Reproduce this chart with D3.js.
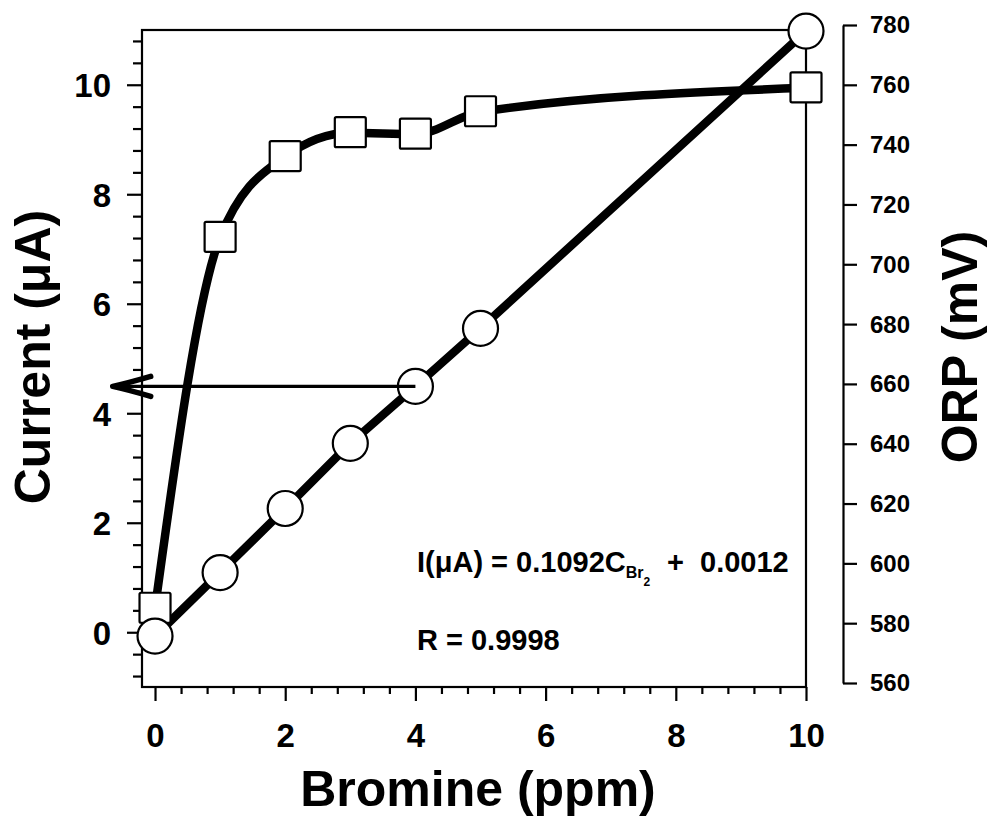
<!DOCTYPE html>
<html>
<head>
<meta charset="utf-8">
<script src="https://cdn.jsdelivr.net/npm/d3@7"></script>
<style>
  html, body { margin: 0; padding: 0; background: #fff; }
  svg { display: block; }
  text { font-family: "Liberation Sans", Arial, Helvetica, sans-serif; font-weight: bold; fill: #000; }
</style>
</head>
<body>
<svg id="chart" width="988" height="825"></svg>
<script>
// ---- data ----
const bromine = [0, 1, 2, 3, 4, 5, 10];                       // ppm
const current = [-0.07, 1.09, 2.26, 3.45, 4.49, 5.55, 10.98]; // µA (circles, left axis)
const orp = [585, 709, 736, 744, 743.5, 751, 759];            // mV (squares, right axis)
const xTicks = [0, 2, 4, 6, 8, 10];
const yLeftTicks = [0, 2, 4, 6, 8, 10];
const yRightTicks = [560, 580, 600, 620, 640, 660, 680, 700, 720, 740, 760, 780];
const arrowFrom = { x: 4, y: 4.49 };
const arrowTo = { x: -0.65, y: 4.49 };
const equationText = "I(\u03bcA) = 0.1092C";
const equationSub1 = "Br";
const equationSub2 = "2";
const equationTail1 = "+";
const equationTail2 = "0.0012";
const rText = "R = 0.9998";
const xTitle = "Bromine (ppm)";
const yLeftTitle = "Current (\u03bcA)";
const yRightTitle = "ORP (mV)";

// ---- scales ----
const svg = d3.select("#chart");
const x = d3.scaleLinear().domain([-0.2, 10]).range([142, 806]);
const yL = d3.scaleLinear().domain([-1, 11]).range([687, 30]);
const yR = d3.scaleLinear().domain([560, 780]).range([683, 25]);

// ---- frame ----
svg.append("rect")
  .attr("x", x(-0.2)).attr("y", yL(11))
  .attr("width", x(10) - x(-0.2)).attr("height", yL(-1) - yL(11))
  .attr("fill", "none").attr("stroke", "#000").attr("stroke-width", 2.2);

// ---- left axis ----
const minorL = d3.range(-2, 28).filter(i => i % 5 !== 0).map(i => i * 0.4);
const gLm = svg.append("g").attr("transform", `translate(${x(-0.2)},0)`)
  .call(d3.axisLeft(yL).tickValues(minorL).tickSize(9).tickSizeOuter(0).tickFormat(""));
const gL = svg.append("g").attr("transform", `translate(${x(-0.2)},0)`)
  .call(d3.axisLeft(yL).tickValues(yLeftTicks).tickSize(15).tickSizeOuter(0).tickPadding(16).tickFormat(d3.format("d")));
[gLm, gL].forEach(g => { g.select(".domain").remove(); g.selectAll("line").attr("stroke", "#000").attr("stroke-width", 2.2); });
gL.selectAll("text").attr("font-size", 33).attr("dy", "0.36em")
  .style("font-family", '"Liberation Sans", Arial, sans-serif').style("font-weight", "bold");

// ---- bottom axis ----
const minorB = d3.range(0, 26).filter(i => i % 5 !== 0).map(i => i * 0.4);
const gBm = svg.append("g").attr("transform", `translate(0,${yL(-1)})`)
  .call(d3.axisBottom(x).tickValues(minorB).tickSize(7).tickSizeOuter(0).tickFormat(""));
const gB = svg.append("g").attr("transform", `translate(0,${yL(-1)})`)
  .call(d3.axisBottom(x).tickValues(xTicks).tickSize(14).tickSizeOuter(0).tickFormat(d3.format("d")));
[gBm, gB].forEach(g => { g.select(".domain").remove(); g.selectAll("line").attr("stroke", "#000").attr("stroke-width", 2.2); });
gB.selectAll("text").attr("font-size", 33).attr("y", 60).attr("dy", 0)
  .style("font-family", '"Liberation Sans", Arial, sans-serif').style("font-weight", "bold");

// ---- right axis ----
const gR = svg.append("g").attr("transform", "translate(843,0)")
  .call(d3.axisRight(yR).tickValues(yRightTicks).tickSize(14).tickSizeOuter(0).tickPadding(13).tickFormat(d3.format("d")));
gR.select(".domain").attr("stroke", "#000").attr("stroke-width", 2.2);
gR.selectAll("line").attr("stroke", "#000").attr("stroke-width", 2.2);
gR.selectAll("text").attr("font-size", 24).attr("dy", "0.33em")
  .style("font-family", '"Liberation Sans", Arial, sans-serif').style("font-weight", "bold");

// ---- series lines ----
const orpData = bromine.map((b, i) => ({ x: b, y: orp[i] }));
const curData = bromine.map((b, i) => ({ x: b, y: current[i] }));

svg.append("path").datum(orpData)
  .attr("d", d3.line().x(d => x(d.x)).y(d => yR(d.y)).curve(d3.curveMonotoneX))
  .attr("fill", "none").attr("stroke", "#000").attr("stroke-width", 8.5).attr("stroke-linejoin", "round");

svg.append("path").datum(curData)
  .attr("d", d3.line().x(d => x(d.x)).y(d => yL(d.y)))
  .attr("fill", "none").attr("stroke", "#000").attr("stroke-width", 8.5).attr("stroke-linejoin", "round");

// ---- markers ----
const sq = 31;
svg.append("g").selectAll("rect").data(orpData).join("rect")
  .attr("x", d => x(d.x) - sq / 2).attr("y", d => yR(d.y) - sq / 2)
  .attr("width", sq).attr("height", sq - 1).attr("rx", 1.5)
  .attr("fill", "#fff").attr("stroke", "#000").attr("stroke-width", 2.2);

svg.append("g").selectAll("circle").data(curData).join("circle")
  .attr("cx", d => x(d.x)).attr("cy", d => yL(d.y)).attr("r", 17.5)
  .attr("fill", "#fff").attr("stroke", "#000").attr("stroke-width", 2.2);

// ---- arrow ----
const ax0 = x(arrowFrom.x), ay0 = yL(arrowFrom.y), ax1 = x(arrowTo.x), ay1 = yL(arrowTo.y);
svg.append("line").attr("x1", ax0).attr("y1", ay0).attr("x2", ax1 + 4).attr("y2", ay1)
  .attr("stroke", "#000").attr("stroke-width", 3.4);
svg.append("path")
  .attr("d", `M${ax1 + 38},${ay1 - 10} Q${ax1 + 14},${ay1 - 3} ${ax1},${ay1} Q${ax1 + 14},${ay1 + 3} ${ax1 + 38},${ay1 + 10}`)
  .attr("fill", "none").attr("stroke", "#000").attr("stroke-width", 5.5).attr("stroke-linecap", "round").attr("stroke-linejoin", "round");

// ---- annotations ----
const eq = svg.append("text").attr("x", 417).attr("y", 572).attr("font-size", 29);
eq.append("tspan").text(equationText);
eq.append("tspan").attr("font-size", 16).attr("dy", 6).text(equationSub1);
eq.append("tspan").attr("font-size", 12).attr("dy", 8).text(equationSub2);
svg.append("text").attr("x", 667).attr("y", 572).attr("font-size", 29).text(equationTail1);
svg.append("text").attr("x", 700).attr("y", 572).attr("font-size", 29).text(equationTail2);
svg.append("text").attr("x", 417).attr("y", 650).attr("font-size", 29).text(rText);

// ---- axis titles ----
svg.append("text").attr("x", 478).attr("y", 806).attr("text-anchor", "middle")
  .attr("font-size", 50).text(xTitle);
svg.append("text").attr("transform", "translate(50,357) rotate(-90)").attr("text-anchor", "middle")
  .attr("font-size", 50).text(yLeftTitle);
svg.append("text").attr("transform", "translate(977,347) rotate(-90)").attr("text-anchor", "middle")
  .attr("font-size", 50).text(yRightTitle);
</script>
</body>
</html>
